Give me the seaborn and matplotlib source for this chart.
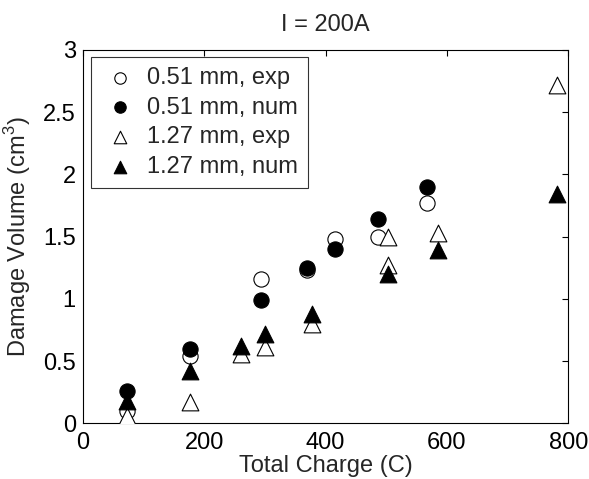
import matplotlib
matplotlib.use("Agg")
import matplotlib.pyplot as plt
import seaborn as sns
import pandas as pd

# Data
x_051 = [73, 177, 294, 370, 416, 487, 567]
y_051_exp = [0.10, 0.54, 1.16, 1.23, 1.48, 1.50, 1.77]
y_051_num = [0.26, 0.60, 0.99, 1.25, 1.40, 1.64, 1.90]

x_127_exp = [73, 177, 260, 300, 378, 503, 503, 586, 781]
y_127_exp = [0.06, 0.17, 0.56, 0.61, 0.80, 1.50, 1.27, 1.53, 2.72]
x_127_num = [73, 177, 260, 300, 378, 503, 586, 781]
y_127_num = [0.18, 0.42, 0.62, 0.72, 0.88, 1.20, 1.39, 1.84]

labels = ["0.51 mm, exp", "0.51 mm, num", "1.27 mm, exp", "1.27 mm, num"]
title = "I = 200A"
xlabel = "Total Charge (C)"
ylabel = "Damage Volume (cm$^3$)"
xticks = [0, 200, 400, 600, 800]
yticks = [0, 0.5, 1, 1.5, 2, 2.5, 3]
yticklabels = ["0", "0.5", "1", "1.5", "2", "2.5", "3"]

sns.set_theme(style="white")
plt.rcParams["font.family"] = ["Liberation Sans", "DejaVu Sans"]
plt.rcParams["mathtext.fontset"] = "custom"
plt.rcParams["mathtext.rm"] = "Liberation Sans"
plt.rcParams["font.size"] = 17

fig = plt.figure(figsize=(5.89, 4.79), dpi=100)
ax = fig.add_axes([82.7 / 589, (479 - 423.3) / 479, (568.3 - 82.7) / 589, (423.3 - 50) / 479])

series = [
    (x_051, y_051_exp, "o", "white", labels[0], 120),
    (x_051, y_051_num, "o", "black", labels[1], 120),
    (x_127_exp, y_127_exp, "^", "white", labels[2], 145),
    (x_127_num, y_127_num, "^", "black", labels[3], 145),
]
for xs, ys, m, fc, lab, s in series:
    df = pd.DataFrame({"x": xs, "y": ys})
    sns.scatterplot(data=df, x="x", y="y", marker=m, s=s, facecolor=fc,
                    edgecolor="black", linewidth=0.8, label=lab, ax=ax, zorder=3)

ax.set_xlim(0, 800)
ax.set_ylim(0, 3)
ax.set_xticks(xticks)
ax.set_yticks(yticks)
ax.set_yticklabels(yticklabels)
ax.tick_params(direction="in", length=4, width=0.8, top=True, right=True,
               labelsize=17, colors="black")
ax.tick_params(axis="x", pad=6)
ax.tick_params(axis="y", pad=5)
for sp in ax.spines.values():
    sp.set_color("black")
    sp.set_linewidth(0.8)

ax.set_title(title, fontsize=17, pad=14)
ax.set_xlabel(xlabel, fontsize=17, labelpad=1)
ax.set_ylabel(ylabel, fontsize=17, labelpad=7)

leg = ax.legend(loc="upper left", bbox_to_anchor=(8.0 / 485.6, 1 - 7.3 / 373.3),
                frameon=True, fancybox=False, edgecolor="black", fontsize=17,
                markerscale=0.75, handlelength=1.7, handletextpad=0.3,
                borderpad=0.4, labelspacing=0.33, borderaxespad=0)
leg.get_frame().set_linewidth(0.8)

fig.savefig("out.png", dpi=100, facecolor="white")
